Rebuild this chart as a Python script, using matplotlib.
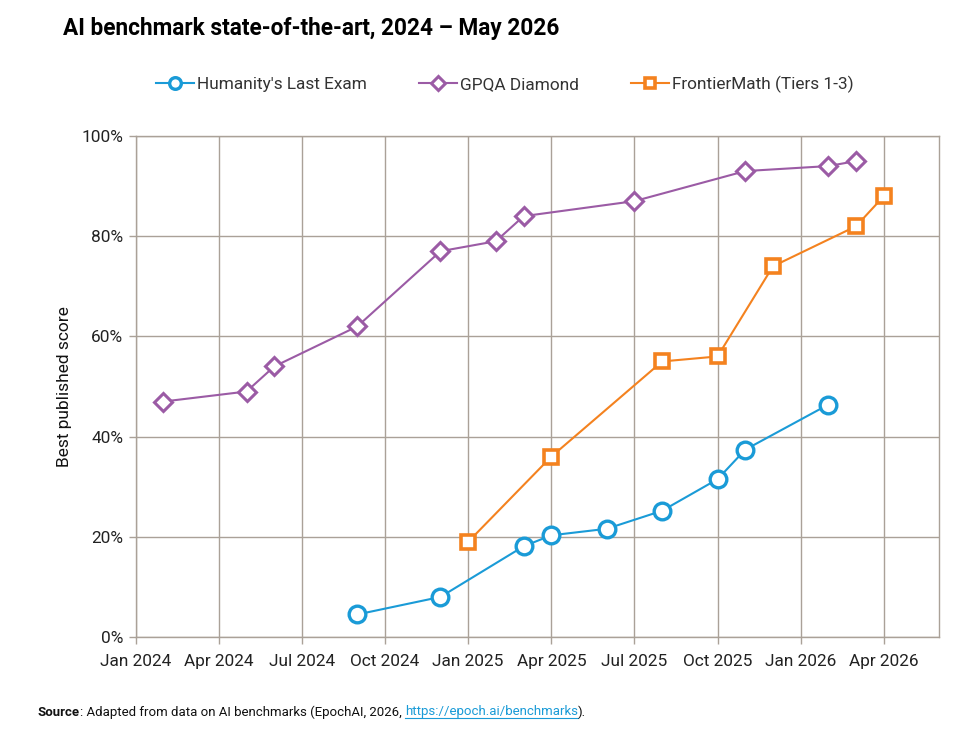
import matplotlib
matplotlib.use('Agg')
import matplotlib.pyplot as plt
from matplotlib.ticker import FuncFormatter

plt.rcParams['font.family'] = ['Roboto', 'DejaVu Sans']

# данные (месяц публикации и лучший результат, %)
hle_months = ['2024-09', '2024-12', '2025-03', '2025-04', '2025-06', '2025-08', '2025-10', '2025-11', '2026-02']
hle_scores = [4.5, 8, 18.1, 20.3, 21.6, 25.2, 31.5, 37.4, 46.4]

gpqa_months = ['2024-02', '2024-05', '2024-06', '2024-09', '2024-12', '2025-02', '2025-03', '2025-07', '2025-11', '2026-02', '2026-03']
gpqa_scores = [47, 49, 54, 62, 77, 79, 84, 87, 93, 94, 95]

fm_months = ['2025-01', '2025-04', '2025-08', '2025-10', '2025-12', '2026-03', '2026-04']
fm_scores = [19, 36, 55, 56, 74, 82, 88]

tick_labels = ['Jan 2024', 'Apr 2024', 'Jul 2024', 'Oct 2024', 'Jan 2025', 'Apr 2025',
               'Jul 2025', 'Oct 2025', 'Jan 2026', 'Apr 2026']

BLUE = '#1a9bd7'
PURPLE = '#9b5ba5'
ORANGE = '#f4821f'
GRID = '#aaa198'


def month_index(s):
    # месяцы от января 2024
    y, m = s.split('-')
    return (int(y) - 2024) * 12 + int(m) - 1


fig = plt.figure(figsize=(9.67, 7.56), dpi=100)
ax = fig.add_axes([0.1403, 0.1574, 0.8310, 0.6627])

ax.plot([month_index(m) for m in hle_months], hle_scores, color=BLUE, lw=1.5,
        marker='o', ms=12, mfc='white', mec=BLUE, mew=2.4, label="Humanity's Last Exam", zorder=3)
ax.plot([month_index(m) for m in gpqa_months], gpqa_scores, color=PURPLE, lw=1.5,
        marker='D', ms=9.5, mfc='white', mec=PURPLE, mew=2.2, label='GPQA Diamond', zorder=3)
ax.plot([month_index(m) for m in fm_months], fm_scores, color=ORANGE, lw=1.5,
        marker='s', ms=10.5, mfc='white', mec=ORANGE, mew=2.6, label='FrontierMath (Tiers 1-3)', zorder=3)

ax.set_xlim(0, 29)
ax.set_ylim(0, 100)
ax.set_xticks(range(0, 30, 3))
ax.set_xticklabels(tick_labels)
ax.set_yticks(range(0, 101, 20))
ax.yaxis.set_major_formatter(FuncFormatter(lambda v, p: f'{v:.0f}%'))

ax.grid(True, color=GRID, lw=1.0)
ax.set_axisbelow(True)
for s in ax.spines.values():
    s.set_color(GRID)
    s.set_linewidth(1.0)
ax.tick_params(axis='both', colors=GRID, length=5, width=1.0, labelsize=12.4, labelcolor='#222222')
ax.tick_params(axis='x', pad=7)
ax.tick_params(axis='y', pad=4)

ax.set_ylabel('Best published score', fontsize=12.5, color='#111111', labelpad=7)

fig.text(0.065, 0.962, 'AI benchmark state-of-the-art, 2024 \u2013 May 2026',
         fontsize=16.3, fontweight='bold', va='center', ha='left', color='black')

fig.legend(loc='center', bbox_to_anchor=(0.522, 0.889), ncol=3, frameon=False, fontsize=12.4,
           handlelength=2.2, handletextpad=0.2, columnspacing=3.0, markerscale=0.7,
           labelcolor='#333333')

# подпись с источником
fig.canvas.draw()
renderer = fig.canvas.get_renderer()
x0 = 0.039
y0 = 1 - 712 / 756
parts = [('Source', 'bold', '#111111', False),
         (': Adapted from data on AI benchmarks (EpochAI, 2026, ', 'normal', '#111111', False),
         ('https://epoch.ai/benchmarks', 'normal', BLUE, True),
         (').', 'normal', '#111111', False)]
for txt, w, c, link in parts:
    t = fig.text(x0, y0, txt, fontsize=9.5, fontweight=w, color=c, va='center', ha='left')
    bb = t.get_window_extent(renderer)
    if link:
        fig.add_artist(plt.Line2D([bb.x0 / 967, bb.x1 / 967], [(bb.y0 + 1) / 756] * 2,
                                  color=BLUE, lw=0.8, transform=fig.transFigure))
    x0 += bb.width / 967

fig.savefig('out.png', dpi=100)
